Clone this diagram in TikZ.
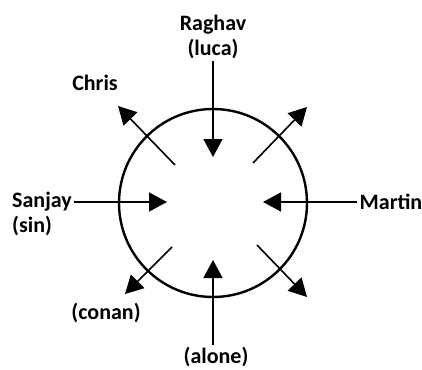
\documentclass[tikz,border=0pt]{standalone}
\usepackage{fontspec}
\setmainfont{Carlito}
\usetikzlibrary{arrows.meta,positioning}

\begin{document}
\begin{tikzpicture}[x=0.5pt,y=-0.5pt,font=\bfseries\fontsize{11}{12.5}\selectfont,
    person/.style={inner sep=1pt,align=center},
    pointer/.style={draw,line width=0.8pt,-{Triangle[length=9pt,width=9.5pt]}}]
    \useasboundingbox (0,0) rectangle (422,369);
    % the ring
    \node[draw,circle,line width=1.2pt,minimum size=94pt,inner sep=0pt] (ring) at (213,203) {};
    % names round it
    \node[person] (raghav) at (213,37) {Raghav\\(luca)};
    \node[person] (chris) at (95,83) {Chris};
    \node[person] (sanjay) at (42,202) {Sanjay};
    \node[person,anchor=north west] (sin) at (sanjay.south west) {(sin)};
    \node[person] (martin) at (391,202) {Martin};
    \node[person] (conan) at (106,313) {(conan)};
    \node[person] (alone) at (216,357) {(alone)};
    % arrow ends
    \coordinate (intop) at (213,157);
    \coordinate (inleft) at (167,202);
    \coordinate (inright) at (263,202);
    \coordinate (inbot) at (213,260);
    \coordinate (nwfrom) at (175,165);
    \coordinate (nwto) at (118,106);
    \coordinate (nefrom) at (253,163);
    \coordinate (neto) at (307,107);
    \coordinate (swfrom) at (172,247);
    \coordinate (swto) at (125,294);
    \coordinate (sefrom) at (257,245);
    \coordinate (seto) at (307,297);
    % arrows
    \draw[pointer] (raghav.south -| intop) -- (intop);
    \draw[pointer] (sanjay.east) -- (inleft);
    \draw[pointer] (martin.west) -- (inright);
    \draw[pointer] (alone.north -| inbot) -- (inbot);
    \draw[pointer] (nwfrom) -- (nwto);
    \draw[pointer] (nefrom) -- (neto);
    \draw[pointer] (swfrom) -- (swto);
    \draw[pointer] (sefrom) -- (seto);
\end{tikzpicture}
\end{document}
